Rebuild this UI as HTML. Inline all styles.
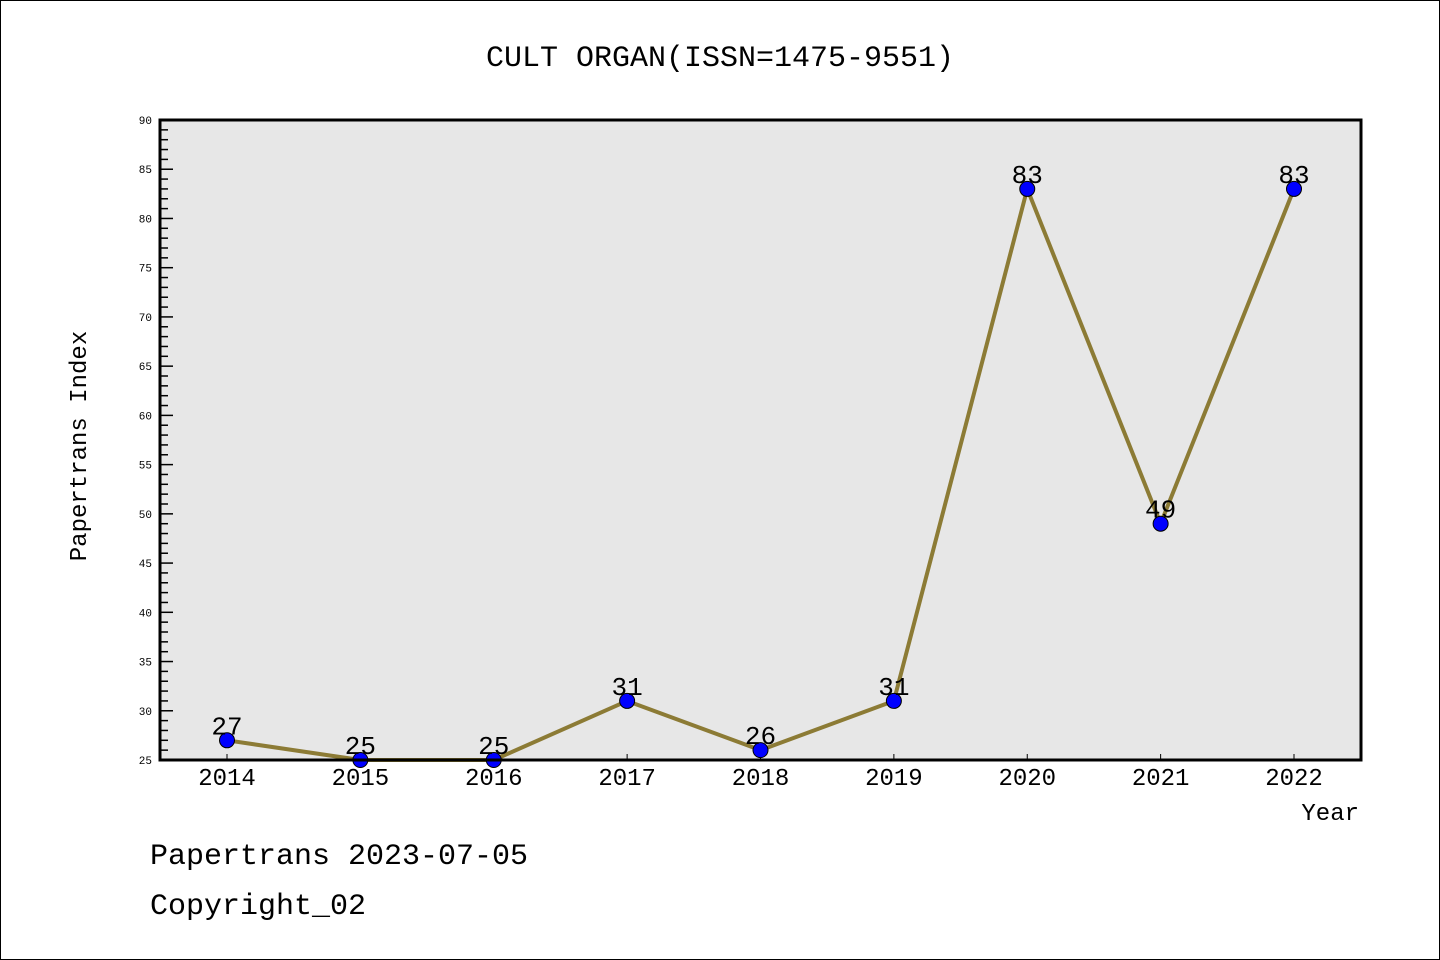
<!DOCTYPE html>
<html><head><meta charset="utf-8"><style>
html,body{margin:0;padding:0;background:#fff}
svg{display:block}
text{font-family:"Liberation Mono","DejaVu Sans Mono",monospace}
</style></head><body>
<svg id="chart" width="1440" height="960" xmlns="http://www.w3.org/2000/svg">
<rect x="0.5" y="0.5" width="1439" height="959" fill="#fff" stroke="#000" stroke-width="1"/>
<text x="720" y="66" text-anchor="middle" font-size="30">CULT ORGAN(ISSN=1475-9551)</text>
<rect x="160" y="120" width="1201" height="640" fill="#e7e7e7"/>
<g id="yaxis"></g>
<g id="xaxis"></g>
<g id="series"></g>
<rect x="160" y="120" width="1201" height="640" fill="none" stroke="#000" stroke-width="3"/>
<text x="86" y="446" text-anchor="middle" font-size="24" transform="rotate(-90 86 446)">Papertrans Index</text>
<text x="1359" y="820" text-anchor="end" font-size="24">Year</text>
<text x="150" y="864" font-size="30">Papertrans 2023-07-05</text>
<text x="150" y="914" font-size="30">Copyright_02</text>
</svg>
<script>
const years = [2014,2015,2016,2017,2018,2019,2020,2021,2022];
const values = [27,25,25,31,26,31,83,49,83];
const yTicks = [25,30,35,40,45,50,55,60,65,70,75,80,85,90];
const NS = "http://www.w3.org/2000/svg";
const X0=160, X1=1361, Y0=760, Y1=120, yMin=25, yMax=90;
function xs(i){ return 227 + i*(1294-227)/(years.length-1); }
function ys(v){ return Y0 - (v-yMin)/(yMax-yMin)*(Y0-Y1); }
function mk(tag, attrs, parent){ const e=document.createElementNS(NS,tag); for(const k in attrs) e.setAttribute(k,attrs[k]); parent.appendChild(e); return e; }
const ya=document.getElementById('yaxis'), xa=document.getElementById('xaxis'), sg=document.getElementById('series');
for(let v=yMin; v<=yMax; v++){
  const major = (v%5===0);
  const t=mk('line',{x1:X0,x2:X0+(major?13:8),y1:ys(v),y2:ys(v),stroke:'#000','stroke-width':1.5},ya);
  
  
}
yTicks.forEach(v=>{
  const t=mk('text',{x:152,y:ys(v)+4,'text-anchor':'end','font-size':11,'font-family':'"DejaVu Sans",sans-serif'},ya);
  t.textContent=v;
  
  
});
years.forEach((yr,i)=>{
  const t=mk('line',{x1:xs(i),x2:xs(i),y1:Y0,y2:Y0-6,stroke:'#000','stroke-width':1},xa);
  
  
  const l=mk('text',{x:xs(i),y:785,'text-anchor':'middle','font-size':24,'font-family':'"Liberation Sans",sans-serif'},xa);
  l.textContent=yr;
  
  
});
const pts=values.map((v,i)=>xs(i)+','+ys(v)).join(' ');
const pl=mk('polyline',{points:pts,fill:'none',stroke:'#8c7b35','stroke-width':4,'stroke-linejoin':'round'},sg);


values.forEach((v,i)=>{
  const c=mk('circle',{cx:xs(i),cy:ys(v),r:7.5,fill:'#0000ff',stroke:'#000','stroke-width':1},sg);
  
  
});
values.forEach((v,i)=>{
  const t=mk('text',{x:xs(i),y:ys(v)-6,'text-anchor':'middle','font-size':26,'font-family':'"Liberation Sans",sans-serif'},sg);
  t.textContent=v;
  
  
});
</script>
</body></html>
